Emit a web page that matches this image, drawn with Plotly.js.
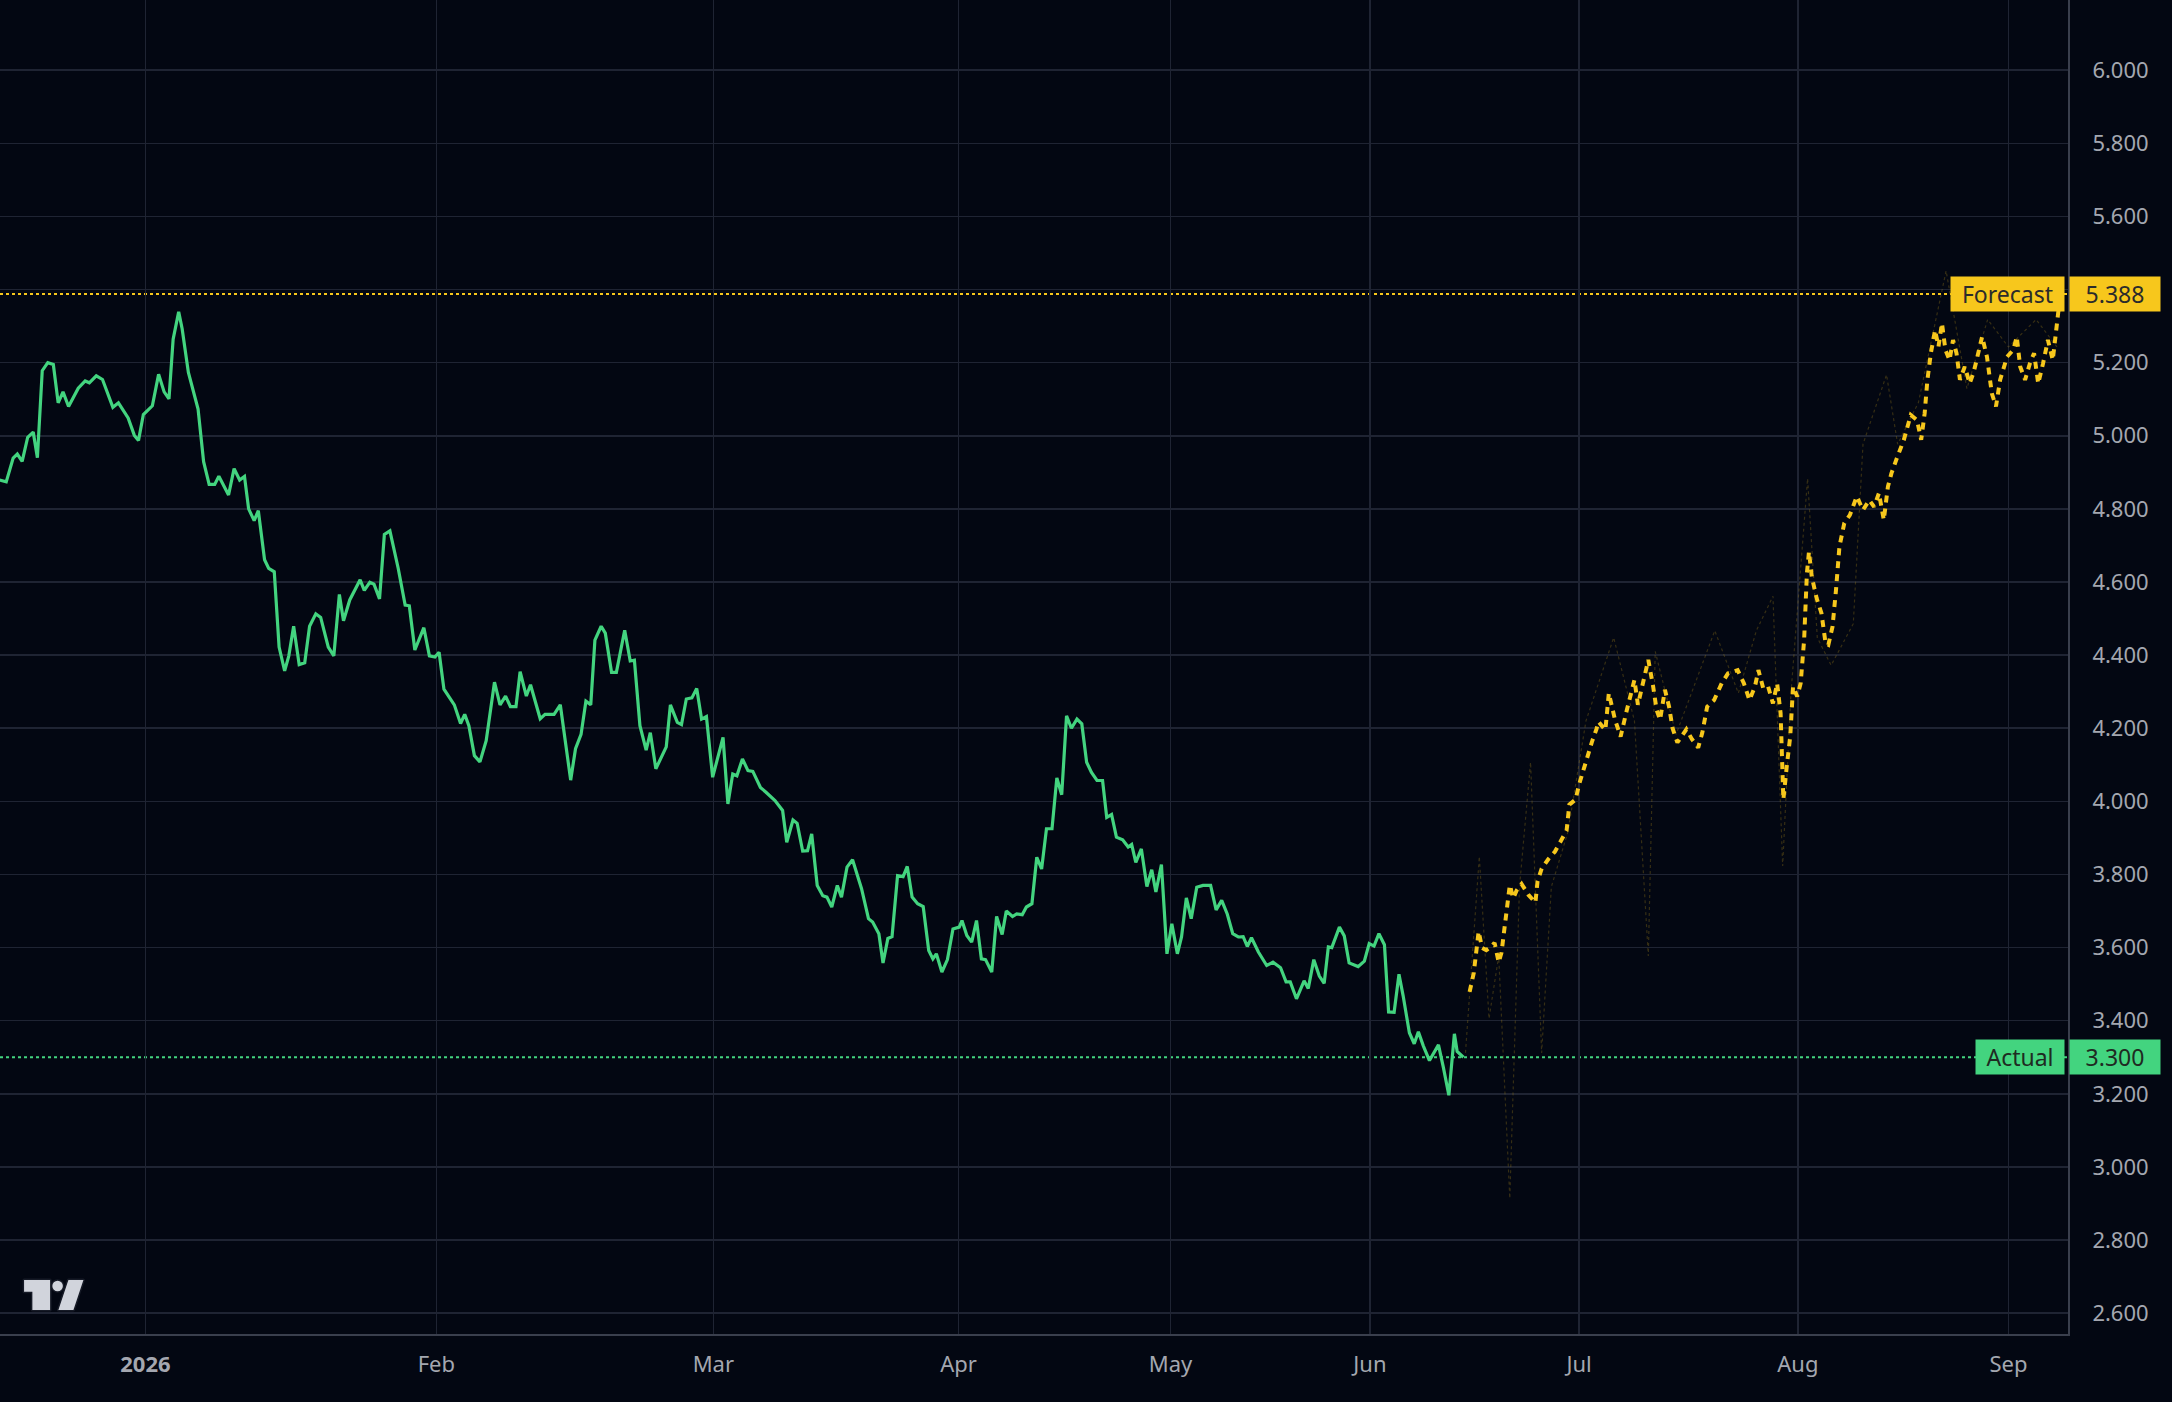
<!DOCTYPE html>
<html>
<head>
<meta charset="utf-8">
<script src="https://cdn.plot.ly/plotly-3.0.1.min.js"></script>
<style>
  html, body { margin: 0; padding: 0; background: #030712; }
  #chart { width: 2172px; height: 1402px; }
</style>
</head>
<body>
<div id="chart"></div>
<script>
// ---- Data (session index along the time axis, price values) ----
const actualT = [-21.4,-20.1,-19.1,-18.5,-17.8,-17.0,-16.2,-15.6,-14.9,-14.1,-13.3,-12.6,-11.9,-11.1,-9.7,-8.7,-8.1,-7.1,-6.2,-4.7,-3.9,-2.5,-1.6,-1.0,-0.3,1.0,1.9,2.7,3.4,4.0,4.8,5.3,6.2,7.6,8.4,9.2,10.0,10.6,12.0,12.8,13.6,14.3,14.9,15.7,16.3,17.2,17.8,18.6,19.3,20.1,20.7,21.4,22.2,23.0,23.7,24.6,25.3,26.4,27.2,28.0,28.6,29.5,31.0,31.6,32.4,33.0,33.8,34.5,35.3,36.5,37.5,38.1,38.9,40.2,41.0,41.8,42.4,43.1,44.6,45.5,46.1,46.7,47.5,48.3,49.2,50.4,51.2,52.0,52.7,53.5,54.1,55.0,55.6,57.0,57.7,59.0,59.9,61.4,62.1,62.9,63.6,64.3,64.9,65.8,66.4,67.3,68.0,69.2,70.0,70.6,71.4,72.3,72.9,73.7,75.2,75.8,76.8,77.4,78.1,78.9,79.6,80.3,81.0,81.9,83.4,84.1,84.8,85.4,86.2,87.0,87.7,88.8,89.6,90.9,92.0,92.6,93.5,94.1,94.9,95.6,96.2,97.0,97.8,98.4,99.1,99.9,100.5,101.3,102.1,103.4,104.4,105.0,105.9,106.5,107.2,107.8,108.6,109.4,110.0,110.7,111.5,112.3,113.1,113.7,114.2,115.0,115.8,116.6,117.5,117.9,118.6,119.3,120.0,120.7,121.3,122.2,122.9,123.7,124.3,125.2,125.8,126.6,127.2,128.0,128.7,129.4,130.1,130.9,131.6,132.3,133.0,133.7,134.5,135.2,135.9,136.6,137.4,138.2,138.8,139.5,140.2,141.1,141.9,142.4,143.0,143.8,144.6,145.3,145.9,146.7,147.5,148.2,149.0,149.6,150.3,151.0,151.8,152.7,153.8,154.6,155.4,156.2,157.0,157.8,158.5,159.1,159.7,160.7,161.9,162.8,163.9,164.7,165.3,166.2,167.3,167.9,168.7,169.5,170.2,170.8,171.3,172.4,173.1,173.8,175.1,176.0,176.7,177.4,178.1,178.9,179.5,180.3,181.0,181.6,182.5,183.2,183.8,184.5,185.4,186.0,186.7,187.4,188.2,189.0,189.4,190.3];
const actualV = [4.881,4.874,4.939,4.950,4.930,4.996,5.010,4.940,5.178,5.200,5.195,5.090,5.120,5.080,5.130,5.150,5.145,5.164,5.154,5.078,5.090,5.049,5.001,4.987,5.058,5.082,5.168,5.120,5.101,5.264,5.339,5.293,5.173,5.073,4.929,4.867,4.867,4.889,4.838,4.910,4.879,4.889,4.800,4.768,4.795,4.661,4.637,4.628,4.422,4.357,4.398,4.479,4.374,4.379,4.479,4.513,4.503,4.422,4.398,4.566,4.494,4.551,4.606,4.577,4.599,4.594,4.554,4.730,4.740,4.637,4.537,4.535,4.414,4.475,4.398,4.395,4.408,4.307,4.264,4.213,4.238,4.207,4.125,4.108,4.166,4.326,4.264,4.288,4.259,4.259,4.355,4.288,4.319,4.226,4.238,4.238,4.264,4.058,4.144,4.183,4.274,4.264,4.441,4.479,4.460,4.353,4.353,4.468,4.384,4.386,4.207,4.140,4.188,4.089,4.149,4.264,4.216,4.210,4.280,4.283,4.309,4.225,4.232,4.066,4.175,3.993,4.075,4.070,4.116,4.084,4.082,4.038,4.025,4.002,3.975,3.888,3.949,3.940,3.864,3.865,3.911,3.770,3.742,3.738,3.711,3.770,3.738,3.820,3.840,3.761,3.679,3.670,3.638,3.558,3.625,3.630,3.797,3.794,3.822,3.738,3.720,3.712,3.592,3.569,3.583,3.533,3.567,3.651,3.656,3.674,3.633,3.615,3.674,3.569,3.567,3.533,3.685,3.636,3.700,3.685,3.692,3.690,3.711,3.720,3.847,3.815,3.925,3.925,4.064,4.018,4.234,4.200,4.225,4.212,4.107,4.079,4.057,4.057,3.956,3.964,3.902,3.895,3.875,3.882,3.833,3.870,3.767,3.813,3.752,3.827,3.583,3.665,3.583,3.629,3.736,3.679,3.765,3.770,3.770,3.703,3.729,3.692,3.638,3.629,3.630,3.603,3.627,3.588,3.551,3.560,3.545,3.506,3.506,3.460,3.509,3.488,3.567,3.522,3.502,3.602,3.600,3.656,3.632,3.558,3.548,3.563,3.611,3.604,3.638,3.608,3.424,3.423,3.527,3.468,3.367,3.337,3.370,3.332,3.291,3.312,3.334,3.273,3.196,3.364,3.316,3.300];

const forecastT = [191.2,191.8,192.5,193.0,193.6,194.3,194.8,195.4,195.8,196.2,196.5,197.0,197.5,198.0,198.7,199.7,200.7,201.0,201.6,202.6,203.5,205.2,205.6,206.5,207.0,207.9,208.9,209.5,209.8,210.8,211.3,212.2,213.0,213.9,214.5,215.0,215.5,216.2,217.0,217.7,218.2,218.7,219.4,220.0,220.5,221.2,222.5,223.3,224.2,224.8,225.5,226.5,227.6,228.5,229.4,229.9,230.8,231.6,232.4,232.9,233.6,234.3,235.0,235.6,236.1,236.3,236.5,237.0,237.5,237.9,238.5,239.0,239.5,239.9,240.2,240.6,241.3,242.0,242.6,243.0,243.6,244.1,244.6,245.3,246.1,247.1,248.0,248.9,249.6,250.3,251.0,251.6,252.1,252.8,253.9,254.9,255.8,256.4,256.9,257.3,257.8,258.4,258.9,259.4,259.9,260.5,261.0,261.5,262.0,262.7,263.4,264.0,264.7,265.2,265.9,266.6,267.2,267.8,268.8,269.7,270.2,270.7,271.4,272.1,272.7,273.3,274.0,274.7,275.4,275.9,276.2,276.6];
const forecastV = [3.479,3.531,3.644,3.599,3.593,3.602,3.613,3.560,3.586,3.649,3.708,3.771,3.735,3.757,3.774,3.744,3.723,3.780,3.816,3.843,3.862,3.920,3.991,4.005,4.046,4.106,4.165,4.197,4.218,4.195,4.296,4.223,4.177,4.250,4.291,4.332,4.264,4.323,4.387,4.314,4.250,4.223,4.305,4.259,4.200,4.161,4.197,4.170,4.147,4.188,4.259,4.277,4.323,4.350,4.354,4.359,4.323,4.277,4.314,4.359,4.309,4.314,4.268,4.323,4.241,4.087,4.005,4.097,4.179,4.314,4.287,4.323,4.442,4.624,4.683,4.615,4.556,4.515,4.432,4.428,4.478,4.578,4.697,4.761,4.783,4.834,4.797,4.824,4.806,4.843,4.770,4.861,4.897,4.934,4.989,5.057,5.043,4.989,5.061,5.153,5.226,5.289,5.244,5.308,5.235,5.207,5.262,5.226,5.153,5.189,5.143,5.175,5.235,5.271,5.216,5.116,5.080,5.153,5.216,5.235,5.271,5.189,5.153,5.198,5.226,5.143,5.198,5.262,5.207,5.298,5.339,5.388];

// faint alternative forecast path
const altT = [190.6,192.6,194.0,195.4,197.0,198.4,200.0,201.6,203.0,205.4,208.0,212.0,215.0,217.0,218.0,221.0,226.6,230.0,232.6,235.0,236.4,237.6,240.0,241.4,243.4,246.6,248.0,251.4,253.0,256.0,260.0,263.0,266.0,269.0,273.0,276.0];
const altV = [3.312,3.849,3.406,3.577,2.914,3.766,4.107,3.312,3.766,3.917,4.220,4.448,4.220,3.577,4.410,4.183,4.467,4.296,4.467,4.561,3.823,4.296,4.883,4.448,4.372,4.486,4.977,5.167,4.977,5.091,5.451,5.129,5.318,5.243,5.318,5.243];

const monthTickPos = [0, 42, 82, 117.4, 148, 176.8, 207, 238.6, 269];
const monthTickLabels = ['<b>2026</b>', 'Feb', 'Mar', 'Apr', 'May', 'Jun', 'Jul', 'Aug', 'Sep'];
const priceTicks = [2.6, 2.8, 3.0, 3.2, 3.4, 3.6, 3.8, 4.0, 4.2, 4.4, 4.6, 4.8, 5.0, 5.2, 5.4, 5.6, 5.8, 6.0];
// 5.400 sits under the Forecast price tag in the reference, so its label is hidden
const hiddenPriceLabels = [5.4];

const actualLabel = 'Actual';
const forecastLabel = 'Forecast';

// ---- Styles ----
const GREEN = '#43d47f';
const YELLOW = '#f7c71c';
const BG = '#030712';
const GRID = '#1f2433';
const AXIS = '#3a3f4d';
const TEXT = '#a4a7b0';
const FONT = '"Noto Sans", "Open Sans", sans-serif';

const lastActual = actualV[actualV.length - 1];
const lastForecast = forecastV[forecastV.length - 1];
const priceTickText = priceTicks.map(v => hiddenPriceLabels.includes(v) ? '' : v.toFixed(3));

const traces = [
  {
    x: altT, y: altV, type: 'scatter', mode: 'lines',
    line: { color: 'rgba(150,120,25,0.35)', width: 1.2, dash: 'dot' },
    hoverinfo: 'skip', showlegend: false
  },
  {
    x: actualT, y: actualV, type: 'scatter', mode: 'lines', name: actualLabel,
    line: { color: GREEN, width: 3.2 }, showlegend: false
  },
  {
    x: forecastT, y: forecastV, type: 'scatter', mode: 'lines', name: forecastLabel,
    line: { color: YELLOW, width: 4, dash: '7px,6px' }, showlegend: false
  }
];

const svgLogo = '<svg xmlns="http://www.w3.org/2000/svg" viewBox="0 0 69 38">' +
  '<g fill="#d1d4dc" stroke="#161a26" stroke-width="3" paint-order="stroke" stroke-linejoin="round">' +
  '<path d="M4,4 H30 V34 H12.3 V15.7 H4 Z"/>' +
  '<circle cx="37.5" cy="10" r="5.3"/>' +
  '<path d="M48.3,4 H63.3 L53.3,34 H38.3 Z"/>' +
  '</g></svg>';

const layout = {
  width: 2172,
  height: 1402,
  paper_bgcolor: BG,
  plot_bgcolor: BG,
  margin: { l: 0, r: 104, t: 0, b: 68, pad: 0 },
  showlegend: false,
  font: { family: FONT, color: TEXT, size: 22 },
  xaxis: {
    range: [-21, 277.6],
    tickmode: 'array',
    tickvals: monthTickPos,
    ticktext: monthTickLabels,
    showgrid: true,
    gridcolor: GRID,
    gridwidth: 1.5,
    zeroline: false,
    showline: true,
    linecolor: AXIS,
    linewidth: 2,
    ticks: '',
    ticklabelstandoff: 10,
    tickfont: { family: FONT, size: 22, color: TEXT }
  },
  yaxis: {
    side: 'right',
    range: [2.543, 6.192],
    tickmode: 'array',
    tickvals: priceTicks,
    ticktext: priceTickText,
    showgrid: true,
    gridcolor: GRID,
    gridwidth: 1.5,
    zeroline: false,
    showline: true,
    linecolor: AXIS,
    linewidth: 2,
    ticks: '',
    ticklabelstandoff: 18,
    tickfont: { family: FONT, size: 22, color: TEXT }
  },
  shapes: [
    {
      type: 'line', xref: 'paper', yref: 'y', x0: 0, x1: 1,
      y0: lastForecast, y1: lastForecast,
      line: { color: YELLOW, width: 2, dash: 'dot' }, layer: 'below'
    },
    {
      type: 'line', xref: 'paper', yref: 'y', x0: 0, x1: 1,
      y0: lastActual, y1: lastActual,
      line: { color: GREEN, width: 2, dash: 'dot' }, layer: 'below'
    }
  ],
  annotations: [
    {
      xref: 'paper', yref: 'y', x: 1, y: lastForecast, xanchor: 'right', yanchor: 'middle',
      xshift: -3, text: forecastLabel, showarrow: false, align: 'center',
      bgcolor: YELLOW, width: 113, height: 34, borderpad: 0,
      font: { family: FONT, size: 23, color: '#2b2b2b' }
    },
    {
      xref: 'paper', yref: 'y', x: 1, y: lastForecast, xanchor: 'left', yanchor: 'middle',
      xshift: 1, text: lastForecast.toFixed(3), showarrow: false, align: 'center',
      bgcolor: YELLOW, width: 90, height: 34, borderpad: 0,
      font: { family: FONT, size: 23, color: '#2b2b2b' }
    },
    {
      xref: 'paper', yref: 'y', x: 1, y: lastActual, xanchor: 'right', yanchor: 'middle',
      xshift: -3, text: actualLabel, showarrow: false, align: 'center',
      bgcolor: GREEN, width: 88, height: 34, borderpad: 0,
      font: { family: FONT, size: 23, color: '#1f2a22' }
    },
    {
      xref: 'paper', yref: 'y', x: 1, y: lastActual, xanchor: 'left', yanchor: 'middle',
      xshift: 1, text: lastActual.toFixed(3), showarrow: false, align: 'center',
      bgcolor: GREEN, width: 90, height: 34, borderpad: 0,
      font: { family: FONT, size: 23, color: '#1f2a22' }
    }
  ],
  images: [
    {
      source: 'data:image/svg+xml;base64,' + btoa(svgLogo),
      xref: 'paper', yref: 'paper',
      x: 0.0097, y: 0.0435, sizex: 0.0334, sizey: 0.0285,
      xanchor: 'left', yanchor: 'top', sizing: 'stretch', layer: 'above'
    }
  ]
};

Plotly.newPlot('chart', traces, layout, { staticPlot: true, displayModeBar: false });
</script>
</body>
</html>
